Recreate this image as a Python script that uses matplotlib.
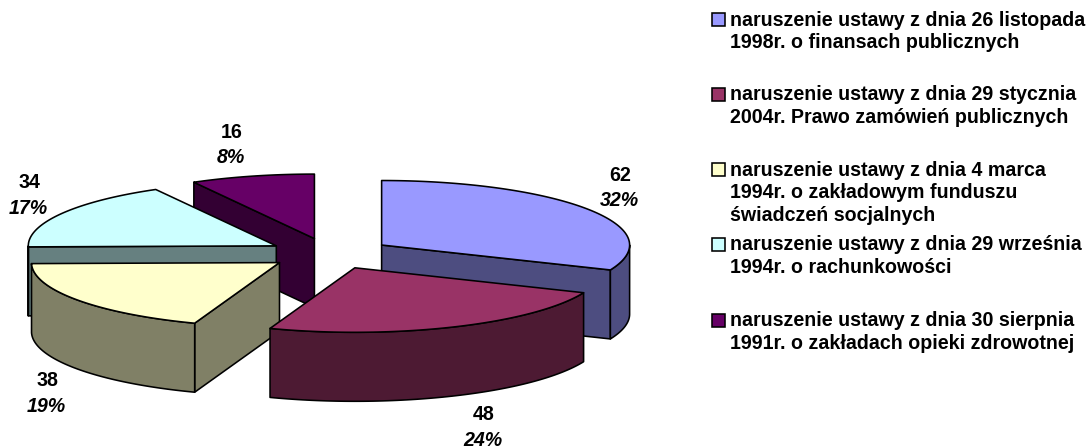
import matplotlib
matplotlib.use("Agg")
import matplotlib.pyplot as plt
import numpy as np

plt.rcParams['font.family'] = ['Liberation Sans', 'DejaVu Sans']

# dane
wartosci = [62, 48, 38, 34, 16]
procenty = ["32%", "24%", "19%", "17%", "8%"]
legenda = [
    ["naruszenie ustawy z dnia 26 listopada", "1998r. o finansach publicznych"],
    ["naruszenie ustawy z dnia 29 stycznia", "2004r. Prawo zamówień publicznych"],
    ["naruszenie ustawy z dnia 4 marca", "1994r. o zakładowym funduszu", "świadczeń socjalnych"],
    ["naruszenie ustawy z dnia 29 września", "1994r. o rachunkowości"],
    ["naruszenie ustawy z dnia 30 sierpnia", "1991r. o zakładach opieki zdrowotnej"],
]
kolory_gora = ["#9999ff", "#993366", "#ffffcc", "#ccffff", "#660066"]
kolory_bok = ["#4d4d80", "#4d1a33", "#808066", "#668080", "#330033"]

# uklad w pikselach
cx, cy = 330, 253.6
rx, ry = 248, 64.5
wysokosc = 69
wysuniecie = 62
kolejnosc = [4, 3, 0, 2, 1]  # od tylu do przodu
etykiety_xy = [(620, 175.5), (484, 415), (47, 381), (29, 182.5), (232, 132)]
legenda_y = [20, 95, 170, 245, 320.5]
odstep = 22.9
rozmiar = 14.1
grubosc = 1.15

fig = plt.figure(figsize=(10.92, 4.48), dpi=100)
ax = fig.add_axes([0, 0, 1, 1])
ax.set_xlim(0, 1092)
ax.set_ylim(448, 0)
ax.axis("off")


def punkt(x0, y0, kat):
    return x0 + rx * np.sin(kat), y0 - ry * np.cos(kat)


katy = np.radians(np.cumsum([0] + wartosci) / sum(wartosci) * 360)

for i in kolejnosc:
    a, b = katy[i], katy[i + 1]
    srodek = (a + b) / 2
    x0 = cx + wysuniecie * np.sin(srodek)
    y0 = cy - wysuniecie * 0.25 * np.cos(srodek)

    # sciany przy wycieciu
    for kat, widoczna in [(a, np.sin(a) < -1e-6), (b, np.sin(b) > 1e-6)]:
        if widoczna:
            px, py = punkt(x0, y0, kat)
            ax.fill([x0, px, px, x0], [y0, py, py + wysokosc, y0 + wysokosc],
                    facecolor=kolory_bok[i], edgecolor="black", lw=grubosc, joinstyle="round")

    # sciana zewnetrzna, tylko przednia czesc
    a2, b2 = max(a, np.pi / 2), min(b, 3 * np.pi / 2)
    if a2 < b2:
        t = np.linspace(a2, b2, 80)
        px, py = punkt(x0, y0, t)
        ax.fill(np.r_[px, px[::-1]], np.r_[py, py[::-1] + wysokosc],
                facecolor=kolory_bok[i], edgecolor="black", lw=grubosc, joinstyle="round")

    # gora
    t = np.linspace(a, b, 120)
    px, py = punkt(x0, y0, t)
    ax.fill(np.r_[x0, px], np.r_[y0, py],
            facecolor=kolory_gora[i], edgecolor="black", lw=grubosc, joinstyle="round")

# etykiety
for i in range(len(wartosci)):
    x, y = etykiety_xy[i]
    ax.text(x, y, str(wartosci[i]), ha="center", va="center", fontsize=rozmiar, fontweight="bold")
    ax.text(x - 1, y + 25.5, procenty[i], ha="center", va="center", fontsize=rozmiar,
            fontweight="bold", fontstyle="italic")

# legenda
for i, linie in enumerate(legenda):
    y = legenda_y[i]
    ax.add_patch(plt.Rectangle((712, y - 6.5), 13, 13, facecolor=kolory_gora[i],
                               edgecolor="black", lw=grubosc))
    for j, linia in enumerate(linie):
        ax.text(730, y + j * odstep, linia, ha="left", va="center", fontsize=rozmiar, fontweight="bold")

fig.savefig("out.png", dpi=100)
